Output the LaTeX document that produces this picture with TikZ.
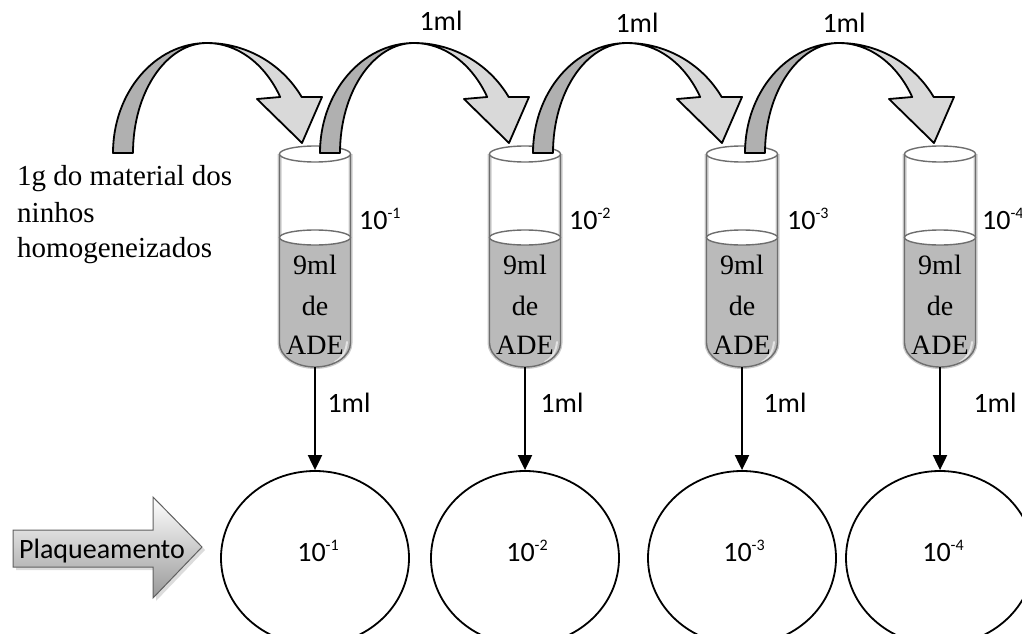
\documentclass[tikz,border=0pt]{standalone}
\usepackage{fontspec}
\setmainfont{Liberation Serif}
\newfontfamily\calfont{Carlito}
\usetikzlibrary{arrows.meta,shapes.geometric,shadows}

\definecolor{ribdark}{HTML}{B0B0B0}
\definecolor{riblight}{HTML}{D9D9D9}
\definecolor{liquid}{HTML}{BABABA}
\definecolor{glass}{HTML}{6E6E6E}
\definecolor{glasshalo}{HTML}{CCCCCC}

% small raised exponent for the dilution labels
\newcommand\expo[1]{\raisebox{0.36em}{\fontsize{16}{16}\selectfont #1}}

\tikzset{
  ribbon/.style={draw=black, line width=1.8pt, line join=round},
  sanslabel/.style={font=\calfont\fontsize{28}{34}\selectfont, inner sep=0pt, anchor=base},
  seriflabel/.style={font=\fontsize{28}{32}\selectfont, inner sep=0pt, anchor=base},
  notelabel/.style={font=\fontsize{29}{36}\selectfont, inner sep=0pt, anchor=base west},
  plate/.style={ellipse, draw, line width=1.8pt, minimum width=188pt, minimum height=174pt, inner sep=0pt},
  drop/.style={line width=2pt, -{Triangle[width=14pt,length=15pt]}},
  wallhalo/.style={draw=glasshalo, line width=4pt},
  wall/.style={draw=glass, line width=1.4pt},
}

% test tube with 9 ml of diluent; #1 = index, #2 = centre x
\newcommand\testtube[2]{%
  \begin{scope}[shift={(#2,0)}]
    \path[wallhalo] (-35.5,154) -- (-35.5,343)
      arc[start angle=180, end angle=0, x radius=35.5, y radius=24] -- (35.5,154);
    \fill[liquid] (-35.5,237) -- (-35.5,343)
      arc[start angle=180, end angle=0, x radius=35.5, y radius=24] -- (35.5,237) -- cycle;
    \draw[white, line width=2pt, line cap=round, opacity=.6]
      (32,342) .. controls (31,352) and (27,358) .. (20,362);
    \path[wall] (-35.5,154) -- (-35.5,343)
      arc[start angle=180, end angle=0, x radius=35.5, y radius=24] -- (35.5,154);
    \draw[wall, fill=white] (0,237.5) ellipse[x radius=35.5, y radius=7.5];
    \draw[wall, fill=white] (0,154) ellipse[x radius=35.5, y radius=8];
    \node[seriflabel] (v#1a) at (0,274) {9ml};
    \node[seriflabel] (v#1b) at (0,315) {de};
    \node[seriflabel] (v#1c) at (0,354) {ADE};
    \coordinate (tb#1) at (0,367);
  \end{scope}}

% curved transfer arrow; #1 = x of the outer foot of the tail
\newcommand\ribbonarrow[1]{%
  \begin{scope}[shift={(#1,0)}]
    \path[ribbon, fill=ribdark] (0,153)
      arc[start angle=180, end angle=270, x radius=94, y radius=110]
      arc[start angle=270, end angle=180, x radius=74, y radius=110] -- cycle;
    \path[ribbon, fill=riblight] (94,43)
      arc[start angle=-90, end angle=-30.6, x radius=110, y radius=110]
      -- (209,97) -- (189,143) -- (144,99) -- (167.2,97)
      arc[start angle=-30.6, end angle=-90, x radius=85, y radius=110] -- cycle;
  \end{scope}}

\begin{document}
\begin{tikzpicture}[x=1pt, y=-1pt]
  \useasboundingbox (0,0) rectangle (1022,634);
  \clip (0,0) rectangle (1022,634);

  % tubes
  \testtube{1}{315}
  \testtube{2}{525}
  \testtube{3}{742}
  \testtube{4}{940}

  % dilution labels beside the tubes
  \node[sanslabel, anchor=base west] (d1) at (359,229) {10\expo{-1}};
  \node[sanslabel, anchor=base west] (d2) at (569,229) {10\expo{-2}};
  \node[sanslabel, anchor=base west] (d3) at (787,229) {10\expo{-3}};
  \node[sanslabel, anchor=base west] (d4) at (982,229) {10\expo{-4}};

  % transfer arrows between tubes
  \ribbonarrow{113}
  \ribbonarrow{320}
  \ribbonarrow{533}
  \ribbonarrow{745}

  \node[sanslabel] (m1) at (441,31) {1ml};
  \node[sanslabel] (m2) at (637,33) {1ml};
  \node[sanslabel] (m3) at (844,33) {1ml};

  % starting material
  \begin{scope}
    \clip (0,140) rectangle (270,263);
    \node[notelabel] (s1) at (17,185) {1g do material dos};
    \node[notelabel] (s2) at (17,222) {ninhos};
    \node[notelabel] (s3) at (17,257) {homogeneizados};
  \end{scope}

  % plates
  \node[plate] (c1) at (315,558) {};
  \node[plate] (c2) at (525,558) {};
  \node[plate] (c3) at (742,558) {};
  \node[plate] (c4) at (940,558) {};

  \node[sanslabel] (p1) at (318,561) {10\expo{-1}};
  \node[sanslabel] (p2) at (527,561) {10\expo{-2}};
  \node[sanslabel] (p3) at (744,561) {10\expo{-3}};
  \node[sanslabel] (p4) at (943,561) {10\expo{-4}};

  % plating transfers
  \foreach \i in {1,2,3,4} \draw[drop] (tb\i) -- (c\i.north);
  \node[sanslabel] (q1) at (349,412) {1ml};
  \node[sanslabel] (q2) at (562,412) {1ml};
  \node[sanslabel] (q3) at (785,412) {1ml};
  \node[sanslabel] (q4) at (995,412) {1ml};

  % plating block arrow
  \path[draw=gray!75!black, line width=1pt, top color=white, bottom color=gray!80,
        drop shadow={shadow xshift=3pt, shadow yshift=-3pt, fill=gray!60, opacity=.45}]
    (13,530) -- (153,530) -- (153,497) -- (202,547) -- (153,598) -- (153,567) -- (13,567) -- cycle;
  \node[sanslabel] (plaq) at (102,558) {Plaqueamento};
\end{tikzpicture}
\end{document}
